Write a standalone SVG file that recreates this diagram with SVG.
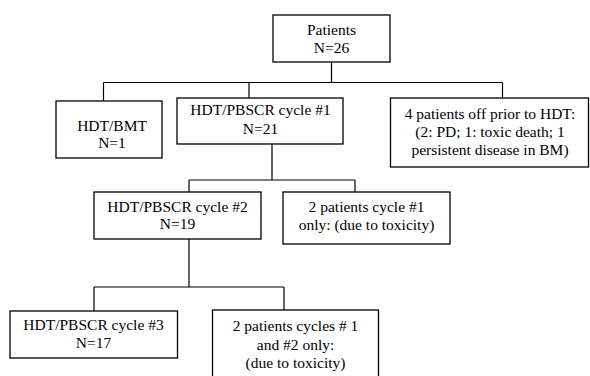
<svg xmlns="http://www.w3.org/2000/svg" width="590" height="376" viewBox="0 0 590 376">
<style>
.box{fill:#fff;stroke:#000;stroke-width:1.3}
.t{font-family:'Liberation Serif','DejaVu Serif',serif;font-size:15.5px;fill:#000;text-anchor:middle}
.c{fill:none;stroke:#000;stroke-width:1.2}
</style>
<rect width="590" height="376" fill="#fff"/>
<g id="connectors">
<path class="c" d="M331.5 62V82.5M103.5 82.5H502.5M103.5 82.5V101M249 82.5V98M502.5 82.5V98"/>
<path class="c" d="M272 144V180M189 180H355M189 180V192M355 180V192"/>
<path class="c" d="M189 239V287M94 287H284M94 287V311M284 287V310"/>
</g>
<g id="patients">
<rect class="box" x="273" y="15" width="117" height="47"/>
<text class="t" x="331.5" y="35">Patients</text>
<text class="t" x="331.5" y="53">N=26</text>
</g>
<g id="bmt">
<rect class="box" x="56" y="101" width="106" height="57"/>
<text class="t" x="112" y="130.5">HDT/BMT</text>
<text class="t" x="112" y="147.5">N=1</text>
</g>
<g id="cycle1">
<rect class="box" x="177" y="98" width="166" height="46"/>
<text class="t" x="260.5" y="115">HDT/PBSCR cycle #1</text>
<text class="t" x="260.5" y="134">N=21</text>
</g>
<g id="off">
<rect class="box" x="390.5" y="98" width="198" height="69"/>
<text class="t" x="490" y="119">4 patients off prior to HDT:</text>
<text class="t" x="490" y="137">(2: PD; 1: toxic death; 1</text>
<text class="t" x="490" y="155">persistent disease in BM)</text>
</g>
<g id="cycle2">
<rect class="box" x="94" y="192" width="167" height="47"/>
<text class="t" x="177.5" y="212">HDT/PBSCR cycle #2</text>
<text class="t" x="177.5" y="229">N=19</text>
</g>
<g id="only1">
<rect class="box" x="283" y="192" width="167" height="52"/>
<text class="t" x="366.5" y="212">2 patients cycle #1</text>
<text class="t" x="366.5" y="230">only: (due to toxicity)</text>
</g>
<g id="cycle3">
<rect class="box" x="10" y="311" width="167.5" height="47"/>
<text class="t" x="93.5" y="330">HDT/PBSCR cycle #3</text>
<text class="t" x="93.5" y="348">N=17</text>
</g>
<g id="only12">
<rect class="box" x="212.5" y="310" width="166" height="80"/>
<text class="t" x="295.5" y="331">2 patients cycles # 1</text>
<text class="t" x="295.5" y="350">and #2 only:</text>
<text class="t" x="295.5" y="368">(due to toxicity)</text>
</g>
</svg>
